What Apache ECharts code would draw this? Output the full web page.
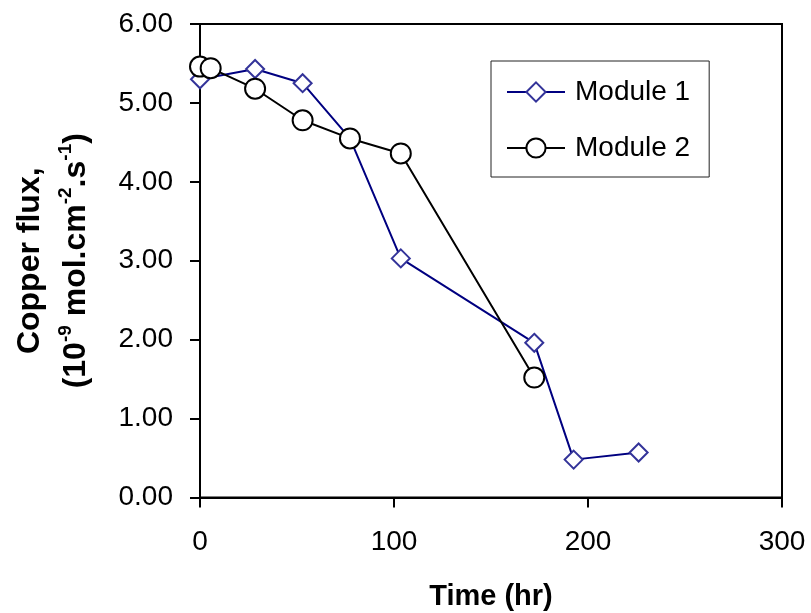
<!DOCTYPE html>
<html>
<head>
<meta charset="utf-8">
<script src="https://cdn.jsdelivr.net/npm/echarts@6/dist/echarts.min.js"></script>
<style>
html,body{margin:0;padding:0;background:#fff;}
#chart{width:811px;height:613px;}
</style>
</head>
<body>
<div id="chart"></div>
<script>
// Data
var seriesNames = ['Module 1', 'Module 2'];
var module1Time = [0, 28.4, 52.9, 77.3, 103.5, 172.3, 192.6, 226.1];
var module1Flux = [5.30, 5.43, 5.25, 4.55, 3.03, 1.96, 0.48, 0.57];
var module2Time = [0, 5.5, 28.4, 52.9, 77.3, 103.5, 172.3];
var module2Flux = [5.46, 5.44, 5.18, 4.78, 4.55, 4.36, 1.52];
var xTicks = [0, 100, 200, 300];
var yTicks = [0, 1, 2, 3, 4, 5, 6];

function pairs(xs, ys) {
  var out = [];
  for (var i = 0; i < xs.length; i++) out.push([xs[i], ys[i]]);
  return out;
}

var FONT = 'Liberation Sans';
var chart = echarts.init(document.getElementById('chart'), null, {renderer: 'canvas'});
chart.setOption({
  animation: false,
  backgroundColor: '#ffffff',
  grid: {
    left: 200, top: 24, width: 582, height: 473.5,
    outerBoundsMode: 'none', containLabel: false,
    show: true, borderColor: '#000', borderWidth: 2, backgroundColor: 'transparent'
  },
  legend: {
    orient: 'vertical',
    left: 491, top: 61,
    data: seriesNames,
    itemWidth: 58, itemHeight: 24, itemGap: 26,
    padding: [16, 19, 14, 15],
    borderColor: '#222', borderWidth: 1,
    textStyle: {fontFamily: FONT, fontSize: 28, color: '#000', lineHeight: 30, padding: [0, 0, 0, 5]}
  },
  xAxis: {
    type: 'value',
    min: xTicks[0], max: xTicks[xTicks.length - 1], interval: 100,
    name: 'Time (hr)',
    nameLocation: 'middle',
    nameGap: 84,
    nameTextStyle: {fontFamily: FONT, fontSize: 29, fontWeight: 'bold', color: '#000', lineHeight: 30},
    axisLine: {show: true, onZero: false, lineStyle: {color: '#000', width: 2}},
    axisTick: {show: true, inside: false, length: 10, lineStyle: {color: '#000', width: 2}},
    axisLabel: {fontFamily: FONT, fontSize: 28, color: '#000', margin: 31},
    splitLine: {show: false}
  },
  yAxis: {
    type: 'value',
    min: yTicks[0], max: yTicks[yTicks.length - 1], interval: 1,
    name: '{a|Copper flux,}\n{a|(10}{s|-9}{a| mol.cm}{s|-2}{a|.s}{s|-1}{a|)}',
    nameLocation: 'middle',
    nameRotate: 90,
    nameGap: 108,
    nameTextStyle: {
      fontFamily: FONT, fontSize: 32, fontWeight: 'bold', color: '#000', align: 'center',
      rich: {
        a: {fontFamily: FONT, fontSize: 32, fontWeight: 'bold', color: '#000', lineHeight: 46, verticalAlign: 'bottom'},
        s: {fontFamily: FONT, fontSize: 19, fontWeight: 'bold', color: '#000', lineHeight: 46, verticalAlign: 'bottom', padding: [0, 0, 17, 0]}
      }
    },
    axisLine: {show: true, onZero: false, lineStyle: {color: '#000', width: 2}},
    axisTick: {show: true, inside: false, length: 10, lineStyle: {color: '#000', width: 2}},
    axisLabel: {fontFamily: FONT, fontSize: 28, color: '#000', margin: 27,
      formatter: function (v) { return v.toFixed(2); }},
    splitLine: {show: false}
  },
  series: [
    {
      name: seriesNames[0],
      type: 'line',
      data: pairs(module1Time, module1Flux),
      symbol: 'diamond',
      symbolSize: 18,
      lineStyle: {color: '#000080', width: 2},
      itemStyle: {color: '#ffffff', borderColor: '#333399', borderWidth: 2},
      emphasis: {disabled: true},
      z: 2
    },
    {
      name: seriesNames[1],
      type: 'line',
      data: pairs(module2Time, module2Flux),
      symbol: 'circle',
      symbolSize: 20,
      lineStyle: {color: '#000000', width: 2},
      itemStyle: {color: '#ffffff', borderColor: '#000000', borderWidth: 2},
      emphasis: {disabled: true},
      z: 3
    }
  ]
});
</script>
</body>
</html>
